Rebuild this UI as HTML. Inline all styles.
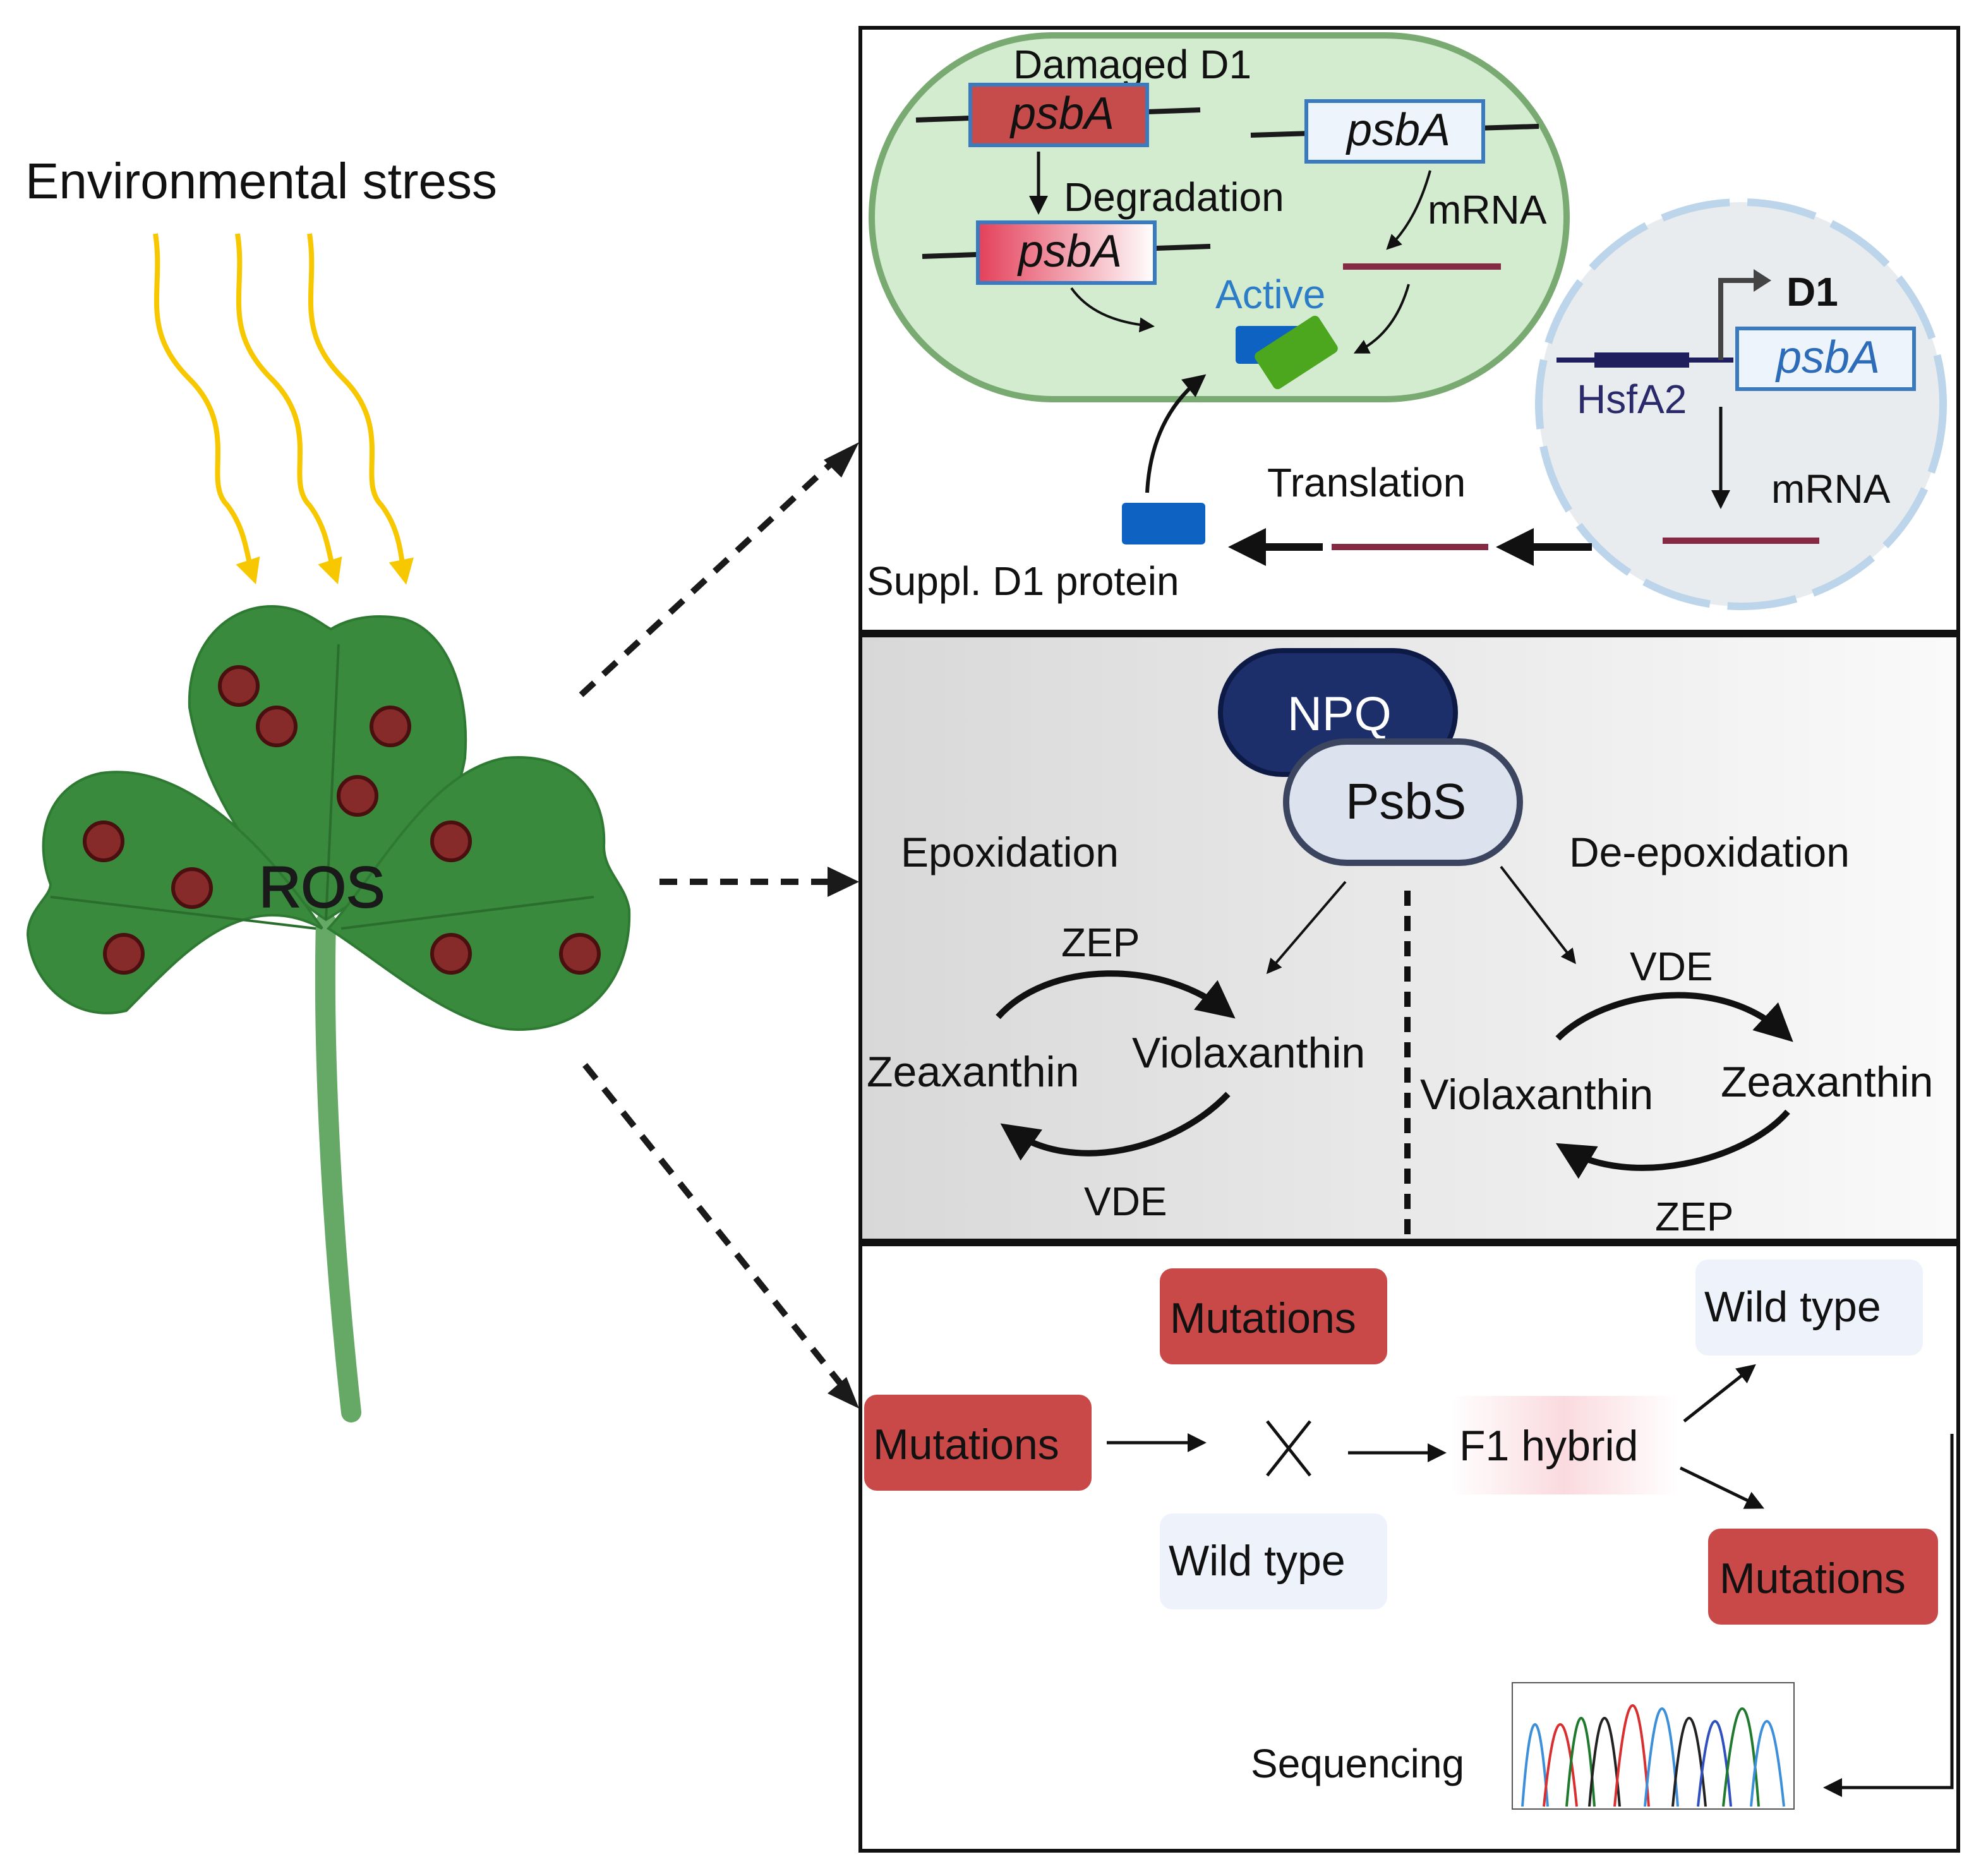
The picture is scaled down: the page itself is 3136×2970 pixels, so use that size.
<!DOCTYPE html>
<html><head><meta charset="utf-8"><style>
html,body{margin:0;padding:0;background:#fff}
svg{display:block}
text{font-family:"Liberation Sans",sans-serif;fill:#111}
</style></head><body>
<svg width="3136" height="2970" viewBox="0 0 1568 1485" xmlns="http://www.w3.org/2000/svg">
<defs>
<marker id="a" markerWidth="5" markerHeight="5" refX="4" refY="2.5" orient="auto" markerUnits="strokeWidth"><path d="M0,0 L5,2.5 L0,5 z" fill="#111"/></marker>
<marker id="ab" markerWidth="6" markerHeight="6" refX="4" refY="3" orient="auto" markerUnits="strokeWidth"><path d="M0,0 L6,3 L0,6 z" fill="#111"/></marker>
<marker id="ay" markerWidth="5" markerHeight="5" refX="3" refY="2.5" orient="auto" markerUnits="strokeWidth"><path d="M0,0 L5,2.5 L0,5 z" fill="#f7c700"/></marker>
<linearGradient id="g2" x1="0" x2="1"><stop offset="0" stop-color="#d8d8d8"/><stop offset="1" stop-color="#fafafa"/></linearGradient>
<linearGradient id="pk" x1="0" x2="1"><stop offset="0" stop-color="#e4405a"/><stop offset="1" stop-color="#fff"/></linearGradient>
<linearGradient id="f1" x1="0" x2="1"><stop offset="0" stop-color="#fff"/><stop offset="0.5" stop-color="#fadadf"/><stop offset="1" stop-color="#fff"/></linearGradient>
</defs>

<text x="20" y="157" font-size="40">Environmental stress</text>
<g fill="none" stroke="#f7c700" stroke-width="4" marker-end="url(#ay)">
<path d="M123,185 C130,230 110,260 150,300 C190,340 160,380 180,400 C195,420 195,440 200,455"/>
<path d="M188,185 C195,230 175,260 215,300 C255,340 225,380 245,400 C260,420 260,440 265,455"/>
<path d="M245,185 C252,230 232,260 272,300 C312,340 282,380 302,400 C317,420 317,440 320,455"/>
</g>

<!-- clover -->
<path d="M258,730 C255,850 265,1000 278,1118" stroke="#66a866" stroke-width="16" fill="none" stroke-linecap="round"/>
<g fill="#3a8a3e" stroke="#2e7a32" stroke-width="2">
<path d="M258,728 C200,690 160,620 150,560 C148,510 180,480 215,480 C240,480 255,495 262,498 C275,490 295,485 320,490 C355,500 372,550 368,600 C360,650 320,690 258,728z"/>
<path d="M255,735 C190,700 140,760 100,800 C60,810 25,780 22,740 C22,720 40,710 40,700 C25,660 40,620 80,612 C130,605 190,640 255,735z"/>
<path d="M260,735 C300,690 340,610 400,600 C455,595 480,630 478,670 C478,690 495,700 498,720 C500,770 470,815 410,815 C360,815 300,760 260,735z"/>
</g>
<g stroke="#2a6e2e" stroke-width="2" fill="none"><path d="M258,728 L268,510"/><path d="M40,710 L250,735"/><path d="M270,735 L470,710"/></g>
<g fill="#862a2a" stroke="#4a0f0f" stroke-width="3">
<circle cx="189" cy="543" r="15"/><circle cx="219" cy="575" r="15"/><circle cx="309" cy="575" r="15"/><circle cx="283" cy="630" r="15"/>
<circle cx="82" cy="666" r="15"/><circle cx="152" cy="703" r="15"/><circle cx="98" cy="755" r="15"/>
<circle cx="357" cy="666" r="15"/><circle cx="357" cy="755" r="15"/><circle cx="459" cy="755" r="15"/>
</g>
<text x="205" y="718" font-size="46" style="fill:#1a1a1a;stroke:#1a1a1a;stroke-width:1">ROS</text>

<!-- dotted arrows -->
<g stroke="#1a1a1a" stroke-width="5" stroke-dasharray="14,10" fill="none">
<path d="M460,550 L660,365"/><path d="M522,698 L655,698"/><path d="M463,843 L665,1095"/>
</g>
<path d="M680,350 L652,364 L666,378z M680,698 L655,686 L655,710z M680,1115 L655,1103 L670,1090z" fill="#1a1a1a"/>

<!-- panel 1 -->
<rect x="681" y="22" width="869" height="478" fill="#fff" stroke="#111" stroke-width="3"/>
<rect x="690" y="28" width="550" height="288" rx="144" fill="#d3ecd0" stroke="#79aa71" stroke-width="5"/>
<circle cx="1378" cy="320" r="160" fill="#e9ecef" stroke="#bcd5ea" stroke-width="6" stroke-dasharray="55,14"/>
<text x="802" y="62" font-size="32">Damaged D1</text>
<g stroke="#1a1a1a" stroke-width="4"><path d="M725,95 L950,87"/><path d="M990,107 L1218,100"/><path d="M730,203 L958,195"/></g>
<rect x="768" y="67" width="140" height="48" fill="#c64b4b" stroke="#3a7abf" stroke-width="3"/>
<text x="800" y="102" font-size="36" font-style="italic">psbA</text>
<rect x="1034" y="80" width="140" height="48" fill="#eef4fb" stroke="#3a7abf" stroke-width="3"/>
<text x="1066" y="115" font-size="36" font-style="italic">psbA</text>
<rect x="774" y="176" width="140" height="48" fill="url(#pk)" stroke="#3a7abf" stroke-width="3"/>
<text x="806" y="211" font-size="36" font-style="italic">psbA</text>
<path d="M822,120 L822,165" stroke="#111" stroke-width="2.5" marker-end="url(#ab)"/>
<text x="842" y="167" font-size="32">Degradation</text>
<text x="1130" y="177" font-size="32">mRNA</text>
<path d="M1132,135 C1125,160 1115,180 1100,195" stroke="#111" stroke-width="2" fill="none" marker-end="url(#ab)"/>
<path d="M1063,211 L1188,211" stroke="#862a44" stroke-width="5"/>
<text x="962" y="244" font-size="32" style="fill:#2c7cc8">Active</text>
<path d="M848,228 C860,245 880,255 910,258" stroke="#111" stroke-width="2" fill="none" marker-end="url(#ab)"/>
<path d="M1115,225 C1108,250 1095,268 1075,278" stroke="#111" stroke-width="2" fill="none" marker-end="url(#ab)"/>
<rect x="978" y="258" width="52" height="30" rx="3" fill="#0e63c2"/>
<rect x="996" y="262" width="60" height="34" rx="4" fill="#4ca61e" transform="rotate(-33 1026 279)"/>
<path d="M908,390 C910,350 925,320 950,300" stroke="#111" stroke-width="3" fill="none" marker-end="url(#ab)"/>
<rect x="888" y="398" width="66" height="33" rx="3" fill="#0e63c2"/>
<text x="686" y="471" font-size="32">Suppl. D1 protein</text>
<text x="1003" y="393" font-size="32">Translation</text>
<path d="M1047,433 L978,433" stroke="#111" stroke-width="6" marker-end="url(#a)"/>
<path d="M1054,433 L1178,433" stroke="#862a44" stroke-width="5"/>
<path d="M1260,433 L1190,433" stroke="#111" stroke-width="6" marker-end="url(#a)"/>
<path d="M1232,285 L1372,285" stroke="#1f1f5e" stroke-width="4"/>
<rect x="1262" y="279" width="75" height="12" fill="#1f1f5e"/>
<path d="M1362,285 L1362,222 L1392,222" stroke="#444" stroke-width="4" fill="none"/>
<path d="M1388,213 L1402,222 L1388,231z" fill="#444"/>
<text x="1414" y="242" font-size="32" font-weight="bold">D1</text>
<rect x="1375" y="260" width="140" height="48" fill="#eef4fb" stroke="#3a7abf" stroke-width="3"/>
<text x="1406" y="295" font-size="36" font-style="italic" style="fill:#2c6cb8">psbA</text>
<text x="1248" y="327" font-size="32" style="fill:#2a2a6a">HsfA2</text>
<path d="M1362,322 L1362,398" stroke="#111" stroke-width="2.5" marker-end="url(#ab)"/>
<text x="1402" y="398" font-size="32">mRNA</text>
<path d="M1316,428 L1440,428" stroke="#862a44" stroke-width="5"/>

<!-- panel 2 -->
<rect x="681" y="503" width="869" height="479" fill="url(#g2)" stroke="#111" stroke-width="3"/>
<rect x="966" y="515" width="186" height="98" rx="49" fill="#1d2f6b" stroke="#0c1a45" stroke-width="4"/>
<text x="1019" y="578" font-size="38" style="fill:#fff">NPQ</text>
<rect x="1018" y="587" width="185" height="96" rx="48" fill="#dde2ef" stroke="#3b4560" stroke-width="5"/>
<text x="1065" y="648" font-size="40">PsbS</text>
<text x="713" y="686" font-size="33">Epoxidation</text>
<text x="1242" y="686" font-size="33">De-epoxidation</text>
<path d="M1065,698 L1005,768" stroke="#111" stroke-width="2" marker-end="url(#ab)"/>
<path d="M1188,686 L1245,760" stroke="#111" stroke-width="2" marker-end="url(#ab)"/>
<path d="M1114,705 L1114,980" stroke="#111" stroke-width="5" stroke-dasharray="12,8"/>
<text x="840" y="757" font-size="32">ZEP</text>
<path d="M790,805 C830,760 920,760 970,800" stroke="#111" stroke-width="5" fill="none" marker-end="url(#ab)"/>
<text x="686" y="860" font-size="34">Zeaxanthin</text>
<text x="896" y="845" font-size="34">Violaxanthin</text>
<path d="M972,866 C930,910 850,930 800,895" stroke="#111" stroke-width="5" fill="none" marker-end="url(#ab)"/>
<text x="858" y="962" font-size="32">VDE</text>
<text x="1290" y="776" font-size="32">VDE</text>
<path d="M1233,822 C1270,785 1360,770 1412,818" stroke="#111" stroke-width="5" fill="none" marker-end="url(#ab)"/>
<text x="1124" y="878" font-size="34">Violaxanthin</text>
<text x="1362" y="868" font-size="34">Zeaxanthin</text>
<path d="M1415,880 C1380,920 1290,940 1240,910" stroke="#111" stroke-width="5" fill="none" marker-end="url(#ab)"/>
<text x="1310" y="974" font-size="32">ZEP</text>

<!-- panel 3 -->
<rect x="681" y="985" width="869" height="480" fill="#fff" stroke="#111" stroke-width="3"/>
<rect x="918" y="1004" width="180" height="76" rx="10" fill="#c94848"/>
<text x="926" y="1055" font-size="34">Mutations</text>
<rect x="684" y="1104" width="180" height="76" rx="10" fill="#c94848"/>
<text x="691" y="1155" font-size="34">Mutations</text>
<rect x="1352" y="1210" width="182" height="76" rx="10" fill="#c94848"/>
<text x="1361" y="1261" font-size="34">Mutations</text>
<rect x="1342" y="997" width="180" height="76" rx="10" fill="#eef3fb"/>
<text x="1349" y="1046" font-size="34">Wild type</text>
<rect x="918" y="1198" width="180" height="76" rx="10" fill="#eef3fb"/>
<text x="925" y="1247" font-size="34">Wild type</text>
<rect x="1148" y="1105" width="180" height="78" fill="url(#f1)"/>
<text x="1155" y="1156" font-size="34">F1 hybrid</text>
<path d="M876,1142 L950,1142" stroke="#111" stroke-width="2.5" marker-end="url(#ab)"/>
<path d="M1003,1125 L1037,1168 M1037,1125 L1003,1168" stroke="#111" stroke-width="2.5"/>
<path d="M1067,1150 L1140,1150" stroke="#111" stroke-width="2.5" marker-end="url(#ab)"/>
<path d="M1333,1125 L1386,1083" stroke="#111" stroke-width="2.5" marker-end="url(#ab)"/>
<path d="M1330,1162 L1392,1192" stroke="#111" stroke-width="2.5" marker-end="url(#ab)"/>
<path d="M1545,1135 L1545,1415 L1448,1415" stroke="#111" stroke-width="2.5" fill="none" marker-end="url(#ab)"/>
<text x="990" y="1407" font-size="32">Sequencing</text>
<rect x="1197" y="1332" width="223" height="100" fill="#fff" stroke="#555" stroke-width="1"/>
<g fill="none" stroke-width="2">
<path d="M1205,1430 Q1215,1300 1225,1430" stroke="#3c8fd8"/>
<path d="M1222,1430 Q1235,1300 1248,1430" stroke="#d83030"/>
<path d="M1240,1430 Q1252,1290 1262,1430" stroke="#1f7a2e"/>
<path d="M1258,1430 Q1270,1290 1282,1430" stroke="#222"/>
<path d="M1278,1430 Q1293,1270 1305,1430" stroke="#d83030"/>
<path d="M1302,1430 Q1316,1275 1328,1430" stroke="#3c8fd8"/>
<path d="M1324,1430 Q1337,1290 1350,1430" stroke="#222"/>
<path d="M1344,1430 Q1358,1295 1370,1430" stroke="#3050c0"/>
<path d="M1364,1430 Q1380,1275 1392,1430" stroke="#1f7a2e"/>
<path d="M1386,1430 Q1398,1295 1412,1430" stroke="#3c8fd8"/>
</g>
</svg>
</body></html>
